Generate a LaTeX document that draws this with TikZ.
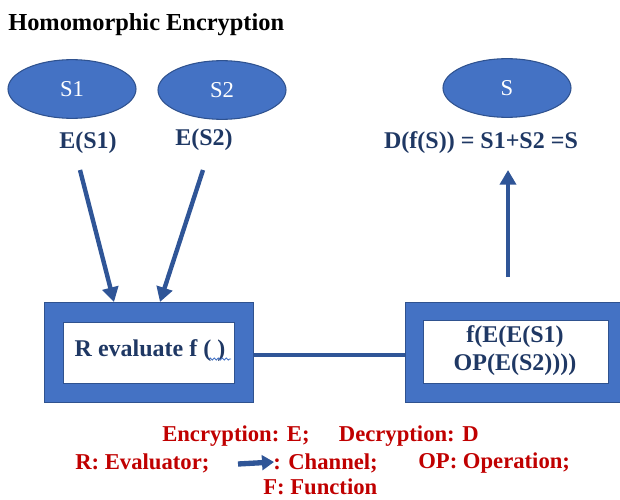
\documentclass[tikz,border=0pt]{standalone}
\usepackage{fontspec}
\setmainfont{Liberation Serif}
\usetikzlibrary{shapes.geometric,arrows.meta,decorations.pathmorphing}
\definecolor{bfill}{HTML}{4472C4}
\definecolor{bline}{HTML}{2F528F}
\definecolor{arrowc}{HTML}{2F5597}
\definecolor{navy}{HTML}{1F3864}
\definecolor{legred}{HTML}{C00000}
\tikzset{
  oval/.style={ellipse, fill=bfill, draw=bline, line width=0.8pt, minimum width=96pt, minimum height=44pt, inner sep=0pt, text=white, font=\fontsize{17}{20}\selectfont},
  lbl/.style={text=navy, font=\bfseries\fontsize{18}{21}\selectfont, inner sep=0pt},
  outerbox/.style={fill=bfill, draw=bline, line width=0.6pt},
  innerbox/.style={fill=white, draw=bline, line width=0.6pt},
  boxtext/.style={text=navy, font=\bfseries\fontsize{18}{21}\selectfont, align=center, inner sep=0pt},
  flow/.style={draw=arrowc, line width=3.3pt, -{Triangle[length=11pt,width=12pt]}},
  chan/.style={draw=arrowc, line width=3pt},
  legend/.style={text=legred, font=\bfseries\fontsize{17}{20}\selectfont, inner sep=0pt, anchor=west}
}
\begin{document}
\begin{tikzpicture}[x=0.75pt,y=-0.75pt]
\useasboundingbox (0,0) rectangle (620,499);
% title
\node[anchor=west, inner sep=0pt, font=\bfseries\fontsize{18.3}{21}\selectfont] (title) at (8,25) {Homomorphic Encryption};
% ellipses
\node[oval] (s1) at (72,89) {S1};
\node[oval] (s2) at (222,90) {S2};
\node[oval] (s) at (507,88) {S};
% labels
\node[lbl] (es1) at (88,143) {E(S1)};
\node[lbl] (es2) at (204,140) {E(S2)};
\node[lbl] (dfs) at (481,143) {D(f(S)) = S1+S2 =S};
% boxes
\path[outerbox] (44,302) rectangle (253,402);
\path[innerbox] (63,322) rectangle (234,383);
\node[boxtext] (rbox) at (150,351) {R evaluate f ( )};
\draw[bfill, line width=0.7pt, decorate, decoration={snake, amplitude=0.8pt, segment length=3pt}] (209,359) -- (231,359);
\path[outerbox] (405,302) rectangle (622,402);
\path[innerbox] (423,320) rectangle (608,383);
\node[boxtext] (fbox) at (515,351) {f(E(E(S1)\\OP(E(S2))))};
% connector points
\coordinate (a1s) at (80,170);
\coordinate (a1e) at (114,302);
\coordinate (a2s) at (203,170);
\coordinate (a2e) at (160,302);
\coordinate (a3s) at (508,277);
\coordinate (a3e) at (508,170);
\coordinate (lout) at (253,355);
\coordinate (rin) at (405,355);
\draw[flow] (a1s) -- (a1e);
\draw[flow] (a2s) -- (a2e);
\draw[flow] (a3s) -- (a3e);
\draw[chan] (lout) -- (rin);
% legend
\node[legend] (l1) at (162,436) {Encryption: E;\hspace{22pt}Decryption: D};
\node[legend] (l2a) at (75,463) {R: Evaluator;};
\coordinate (lgs) at (238,464);
\coordinate (lge) at (274,462);
\draw[draw=arrowc, line width=4pt, -{Triangle[length=9pt,width=11pt]}] (lgs) -- (lge);
\node[legend] (l2b) at (273,463) {: Channel;};
\node[legend] (l2c) at (418,463) {OP: Operation;};
\node[legend] (l3) at (263,487) {F: Function};
\end{tikzpicture}
\end{document}
